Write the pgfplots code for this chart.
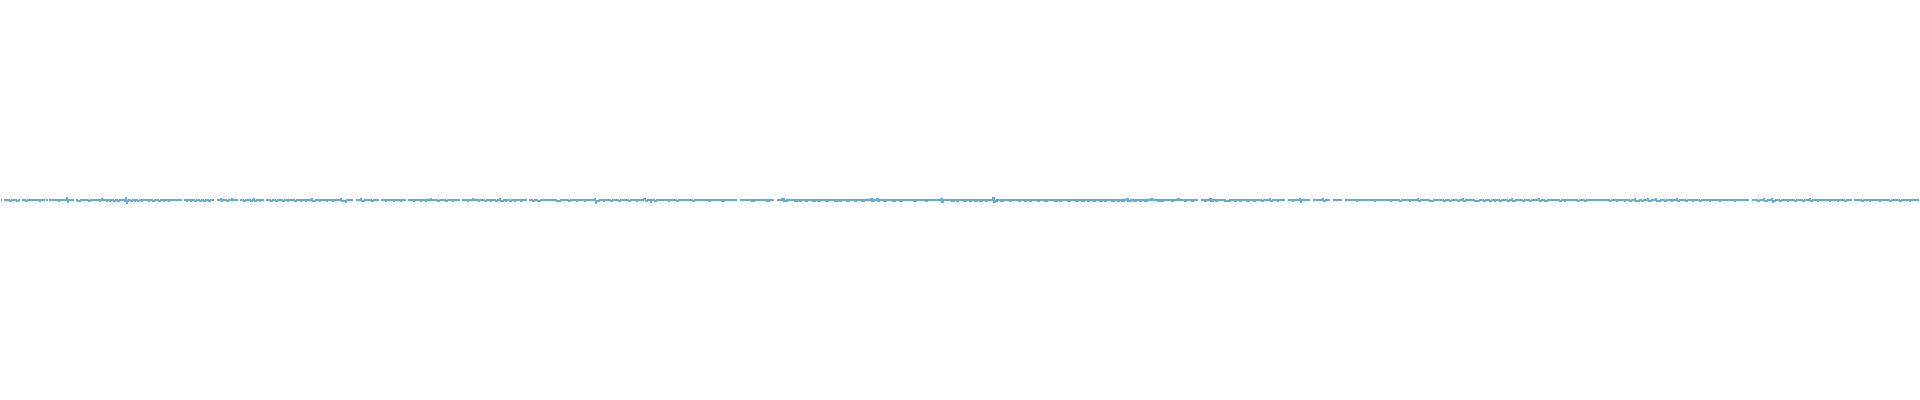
\documentclass[border=0pt]{standalone}
\usepackage{pgfplots}
\pgfplotsset{compat=1.18}
\definecolor{sig}{RGB}{93,173,226}
\begin{document}
\begin{tikzpicture}
\begin{axis}[
  scale only axis, width=960pt, height=200pt,
  xmin=0, xmax=1920, ymin=-199, ymax=201,
  axis line style={draw=none}, ticks=none,
  unbounded coords=jump, clip=false,
]
\addplot[sig, line width=0.7pt, const plot] table[row sep=\\] {
x y\\
0 1\\ 1.5 1\\ 1.6 nan\\ 3 1\\ 9 0\\ 11 1\\ 16 0\\ 18 1\\ 19 1\\ 19.1 nan\\
21 1\\ 25 0\\ 27 1\\ 39 0\\ 40 1\\ 44 1\\ 44.1 nan\\ 45 1\\ 47 1\\ 47.1 nan\\
48 1\\ 58 0\\ 59 1\\ 66 3\\ 66.7 -1\\ 67.5 1\\ 73 1\\ 73.1 nan\\ 75 1\\ 77 0\\
80 1\\ 88 0\\ 90 1\\ 99 0\\ 100 1\\ 101 2\\ 102 1\\ 106 0\\ 107 1\\ 109 0\\
110 1\\ 113 0\\ 115 1\\ 117 0\\ 119 1\\ 124 0\\ 125 3\\ 126 -2\\ 127 0\\ 128 1\\
130 0\\ 132 1\\ 134 0\\ 135 1\\ 137 0\\ 139 1\\ 141 0\\ 142 1\\ 148 0\\ 149 1\\
152 0\\ 154 1\\ 158 0\\ 160 1\\ 163 0\\ 164 1\\ 168 0\\ 169 1\\ 181 1\\ 181.1 nan\\
183 1\\ 186 0\\ 187 1\\ 190 0\\ 191 1\\ 194 0\\ 196 1\\ 199 0\\ 201 1\\ 203 0\\
205 1\\ 208 0\\ 210 1\\ 213 1\\ 213.1 nan\\ 216 1\\ 220 2\\ 221 0\\ 222 1\\ 226 0\\
228 1\\ 231 2\\ 232 1\\ 237 1\\ 237.1 nan\\ 239 1\\ 243 0\\ 245 1\\ 250 0\\ 252 1\\
253 2\\ 254 0\\ 256 1\\ 259 0\\ 260 1\\ 263 1\\ 263.1 nan\\ 265 1\\ 270 0\\ 272 1\\
275 0\\ 277 1\\ 282 0\\ 284 1\\ 287 0\\ 288 1\\ 294 0\\ 296 1\\ 300 0\\ 301 1\\
305 0\\ 306 1\\ 311 2\\ 312 0\\ 315 1\\ 319 0\\ 320 1\\ 326 0\\ 327 1\\ 332 0\\
333 1\\ 340 2\\ 341 0\\ 345 -1\\ 346 1\\ 353 1\\ 353.1 nan\\ 356 1\\ 360 2\\ 361 0\\
364 1\\ 371 0\\ 373 1\\ 379 1\\ 379.1 nan\\ 381 1\\ 385 0\\ 386 1\\ 393 0\\ 394 1\\
400 0\\ 401 1\\ 406 1\\ 406.1 nan\\ 408 1\\ 413 0\\ 414 1\\ 420 0\\ 421 1\\ 425 0\\
426 1\\ 430 2\\ 431 1\\ 437 0\\ 439 1\\ 445 0\\ 447 1\\ 452 0\\ 453 1\\ 460 1\\
460.1 nan\\ 462 1\\ 467 0\\ 468 1\\ 472 2\\ 473 1\\ 478 0\\ 479 1\\ 484 0\\ 486 1\\
490 0\\ 491 1\\ 495 0\\ 497 1\\ 499 2\\ 500 0\\ 503 1\\ 505 0\\ 506 1\\ 509 0\\
511 1\\ 514 0\\ 515 1\\ 520 0\\ 521 1\\ 527 1\\ 527.1 nan\\ 529 1\\ 532 0\\ 534 1\\
537 0\\ 540 1\\ 556 0\\ 560 1\\ 568 0\\ 570 1\\ 576 0\\ 577 1\\ 584 0\\ 585 1\\
594 2\\ 595 -2\\ 596 0\\ 599 1\\ 603 0\\ 604 1\\ 610 0\\ 612 1\\ 618 0\\ 620 1\\
628 0\\ 630 1\\ 636 0\\ 637 1\\ 643 2\\ 645 0\\ 647 1\\ 650 -1\\ 651 1\\ 654 0\\
656 1\\ 668 0\\ 669 1\\ 676 0\\ 678 1\\ 692 0\\ 694 1\\ 709 0\\ 710 1\\ 722 0\\
724 1\\ 737 1\\ 737.1 nan\\ 740 1\\ 752 0\\ 754 1\\ 767 0\\ 769 1\\ 774 1\\ 774.1 nan\\
777 1\\ 782 2\\ 784 0\\ 787 1\\ 795 0\\ 797 1\\ 800 0\\ 801 1\\ 806 0\\ 807 1\\
813 0\\ 815 1\\ 818 0\\ 820 1\\ 826 0\\ 828 1\\ 835 0\\ 837 1\\ 840 0\\ 841 1\\
847 0\\ 849 1\\ 855 0\\ 856 1\\ 862 0\\ 864 1\\ 871 2\\ 872 0\\ 874 1\\ 877 2\\
878 0\\ 879 1\\ 884 0\\ 886 1\\ 893 0\\ 895 1\\ 900 0\\ 902 1\\ 914 0\\ 916 1\\
926 0\\ 927 1\\ 941 2\\ 942 -1\\ 943 1\\ 952 0\\ 954 1\\ 957 0\\ 958 1\\ 964 0\\
966 1\\ 970 0\\ 971 1\\ 975 0\\ 977 1\\ 980 0\\ 982 1\\ 986 0\\ 987 1\\ 993 3\\
994 -1\\ 995 0\\ 997 1\\ 1001 0\\ 1003 1\\ 1010 0\\ 1011 1\\ 1019 0\\ 1020 1\\ 1025 0\\
1026 1\\ 1030 0\\ 1031 1\\ 1038 0\\ 1039 1\\ 1045 0\\ 1047 1\\ 1055 0\\ 1057 1\\ 1060 0\\
1061 1\\ 1068 0\\ 1070 1\\ 1076 0\\ 1078 1\\ 1082 0\\ 1084 1\\ 1088 0\\ 1089 1\\ 1093 0\\
1095 1\\ 1100 0\\ 1102 1\\ 1105 0\\ 1106 1\\ 1112 0\\ 1114 1\\ 1118 0\\ 1119 1\\ 1122 0\\
1124 1\\ 1127 2\\ 1128 0\\ 1131 1\\ 1134 0\\ 1136 1\\ 1140 0\\ 1141 1\\ 1145 0\\ 1147 1\\
1151 2\\ 1152 1\\ 1158 0\\ 1160 1\\ 1162 0\\ 1163 1\\ 1172 0\\ 1173 1\\ 1178 2\\ 1179 1\\
1185 0\\ 1186 1\\ 1192 0\\ 1193 1\\ 1198 1\\ 1198.1 nan\\ 1201 1\\ 1205 0\\ 1206 1\\ 1210 2\\
1211 0\\ 1213 1\\ 1216 0\\ 1217 1\\ 1225 0\\ 1230 1\\ 1235 0\\ 1236 1\\ 1240 0\\ 1241 1\\
1247 0\\ 1249 1\\ 1254 0\\ 1255 1\\ 1262 0\\ 1264 1\\ 1270 2\\ 1271 0\\ 1273 1\\ 1278 0\\
1279 1\\ 1285 1\\ 1285.1 nan\\ 1288 1\\ 1293 0\\ 1294 1\\ 1300 2\\ 1301 -1\\ 1302 1\\ 1310 1\\
1310.1 nan\\ 1313 1\\ 1323 2\\ 1324 0\\ 1326 1\\ 1330 1\\ 1330.1 nan\\ 1333 1\\ 1342 1\\ 1342.1 nan\\
1345 1\\ 1357 0\\ 1358 1\\ 1375 0\\ 1376 1\\ 1391 0\\ 1392 1\\ 1400 0\\ 1402 1\\ 1410 0\\
1411 1\\ 1418 2\\ 1419 0\\ 1421 1\\ 1430 0\\ 1434 1\\ 1444 0\\ 1446 1\\ 1450 0\\ 1452 1\\
1458 0\\ 1460 1\\ 1463 2\\ 1464 0\\ 1466 1\\ 1475 0\\ 1480 1\\ 1484 0\\ 1486 1\\ 1490 0\\
1492 1\\ 1495 0\\ 1496 1\\ 1500 0\\ 1502 1\\ 1508 0\\ 1510 1\\ 1512 2\\ 1513 0\\ 1516 1\\
1523 0\\ 1525 1\\ 1530 0\\ 1532 1\\ 1539 2\\ 1540 0\\ 1542 1\\ 1545 0\\ 1548 1\\ 1560 0\\
1562 1\\ 1565 0\\ 1566 1\\ 1578 0\\ 1580 1\\ 1585 0\\ 1587 1\\ 1610 0\\ 1612 1\\ 1617 0\\
1618 1\\ 1625 0\\ 1626 1\\ 1630 0\\ 1632 1\\ 1635 2\\ 1636 0\\ 1640 1\\ 1642 0\\ 1644 1\\
1648 2\\ 1649 0\\ 1652 1\\ 1656 2\\ 1657 0\\ 1661 1\\ 1665 0\\ 1667 1\\ 1672 0\\ 1673 1\\
1677 2\\ 1678 0\\ 1680 1\\ 1686 0\\ 1688 1\\ 1693 0\\ 1694 1\\ 1700 0\\ 1702 1\\ 1710 0\\
1711 1\\ 1720 0\\ 1721 1\\ 1735 0\\ 1736 1\\ 1750 1\\ 1750.1 nan\\ 1753 1\\ 1758 0\\ 1760 1\\
1764 2\\ 1765 0\\ 1768 1\\ 1772 2\\ 1773 -1\\ 1774 0\\ 1776 1\\ 1780 0\\ 1782 1\\ 1788 0\\
1789 1\\ 1795 0\\ 1797 1\\ 1803 0\\ 1805 1\\ 1810 2\\ 1811 0\\ 1813 1\\ 1818 0\\ 1819 1\\
1830 0\\ 1831 1\\ 1838 0\\ 1839 1\\ 1845 0\\ 1847 1\\ 1853 1\\ 1853.1 nan\\ 1855 1\\ 1862 0\\
1864 1\\ 1870 0\\ 1871 1\\ 1880 0\\ 1881 1\\ 1890 0\\ 1892 1\\ 1900 0\\ 1902 1\\ 1910 0\\
1911 1\\ 1920 1\\
};
\end{axis}
\end{tikzpicture}
\end{document}
